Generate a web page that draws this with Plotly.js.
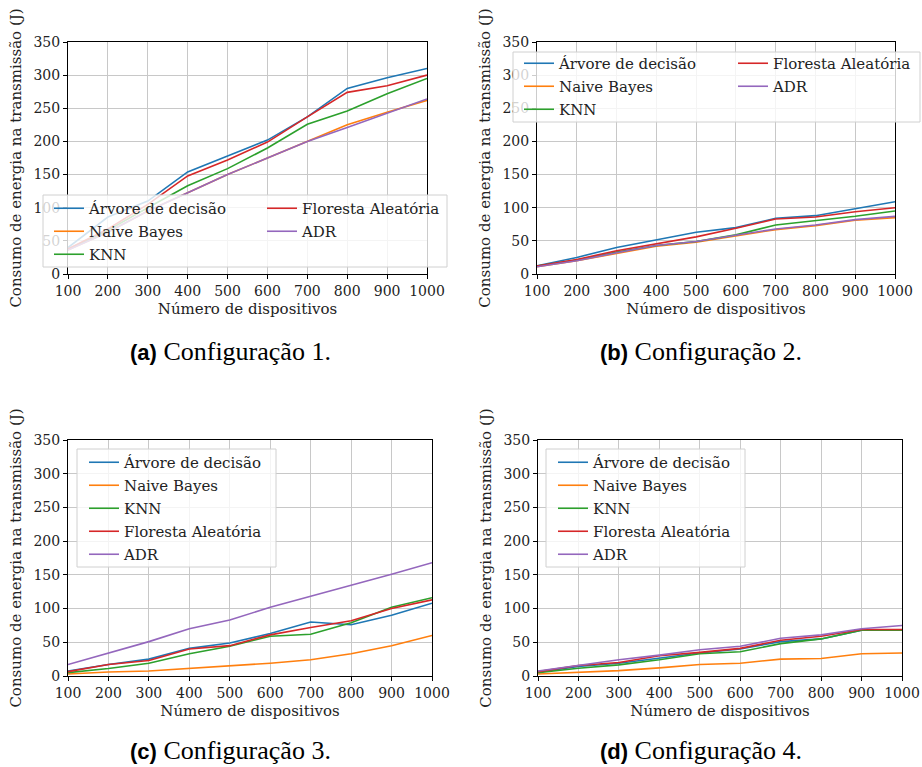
<!DOCTYPE html>
<html>
<head>
<meta charset="utf-8">
<script src="https://cdn.plot.ly/plotly-3.0.1.min.js"></script>
<style>html,body{margin:0;padding:0;background:#fff;}#chart{width:922px;height:767px;}</style>
</head>
<body>
<div id="chart"></div>
<script>
const devices = [100, 200, 300, 400, 500, 600, 700, 800, 900, 1000];
const seriesNames = ['Árvore de decisão', 'Naive Bayes', 'KNN', 'Floresta Aleatória', 'ADR'];
const seriesColors = ['#1f77b4', '#ff7f0e', '#2ca02c', '#d62728', '#9467bd'];
const yTicks = [0, 50, 100, 150, 200, 250, 300, 350];
const captions = ['Configuração 1.', 'Configuração 2.', 'Configuração 3.', 'Configuração 4.'];
const captionLetters = ['(a)', '(b)', '(c)', '(d)'];
const xTitle = 'Número de dispositivos';
const yTitle = 'Consumo de energia na transmissão (J)';

// Configuração 1
const c1Arvore   = [40, 86, 110, 154, 178, 202, 237, 280, 296, 310];
const c1Naive    = [36, 63, 95, 122, 150, 175, 200, 225, 244, 262];
const c1KNN      = [37, 66, 100, 133, 159, 190, 226, 246, 272, 295];
const c1Floresta = [38, 68, 105, 148, 172, 199, 237, 274, 284, 300];
const c1ADR      = [36, 63, 95, 123, 150, 175, 200, 221, 242, 264];
// Configuração 2
const c2Arvore   = [12.5, 25, 40, 52, 63, 70, 84, 88, 98, 109];
const c2Naive    = [11, 20, 31, 42, 48, 57, 67, 73, 81, 85];
const c2KNN      = [12, 21, 33, 43, 49, 59, 74, 80, 87, 95];
const c2Floresta = [12, 22, 35, 46, 56, 69, 83, 86, 94, 100];
const c2ADR      = [11, 20, 32, 43, 49, 58, 68, 74, 82, 87];
// Configuração 3
const c3Arvore   = [7.5, 17, 25, 41, 49, 63, 80, 76, 90, 108];
const c3Naive    = [3, 6, 7.5, 11, 15, 19, 24, 33, 45, 60];
const c3KNN      = [5, 11, 19, 33, 44, 59, 62, 79, 102, 116];
const c3Floresta = [6.5, 17, 23, 40, 45, 61, 72, 82, 100, 113];
const c3ADR      = [17, 34, 51, 70, 83, 102, 118, 134, 151, 168];
// Configuração 4
const c4Arvore   = [5.5, 14, 19, 27, 34, 40, 51, 55, 68, 68];
const c4Naive    = [3, 5.5, 8, 12, 17, 19, 25, 26, 33, 34];
const c4KNN      = [5, 11.5, 16.5, 24, 33, 36, 48, 55, 68, 68];
const c4Floresta = [6.5, 15.5, 20, 30, 35, 41, 53, 59, 69, 69];
const c4ADR      = [7.5, 16, 24, 31, 39, 44, 56, 61, 70, 75];

const configs = [
  [c1Arvore, c1Naive, c1KNN, c1Floresta, c1ADR],
  [c2Arvore, c2Naive, c2KNN, c2Floresta, c2ADR],
  [c3Arvore, c3Naive, c3KNN, c3Floresta, c3ADR],
  [c4Arvore, c4Naive, c4KNN, c4Floresta, c4ADR]
];

const W = 922, H = 767;
const px = v => v / W;
const py = v => (H - v) / H;

// panel boxes in pixels: [left, right, top, bottom]
const boxes = [[68, 427, 42, 274], [537, 895, 42, 274], [68, 432, 440, 676], [538, 902, 440, 676]];
// caption centres in pixels: [x, y]
const captionPos = [[230, 351], [701, 351], [230, 750], [701, 750]];
// legend id for each series in each panel (a,b: two columns)
const legendIds = [
  ['legend', 'legend', 'legend', 'legend2', 'legend2'],
  ['legend3', 'legend3', 'legend3', 'legend4', 'legend4'],
  ['legend5', 'legend5', 'legend5', 'legend5', 'legend5'],
  ['legend6', 'legend6', 'legend6', 'legend6', 'legend6']
];

const serif = 'DejaVu Serif';
const traces = [];
configs.forEach((cfg, p) => {
  const sfx = p === 0 ? '' : String(p + 1);
  cfg.forEach((vals, s) => {
    traces.push({
      type: 'scatter', mode: 'lines', x: devices, y: vals,
      name: seriesNames[s], xaxis: 'x' + sfx, yaxis: 'y' + sfx,
      line: {color: seriesColors[s], width: 1.6},
      legend: legendIds[p][s], legendgroup: 'g' + p + s
    });
  });
});

const layout = {
  width: W, height: H,
  margin: {l: 0, r: 0, t: 0, b: 0, autoexpand: false},
  paper_bgcolor: '#fff', plot_bgcolor: '#fff',
  font: {family: serif, size: 14, color: '#000'},
  showlegend: true,
  shapes: [], annotations: []
};

boxes.forEach((b, p) => {
  const sfx = p === 0 ? '' : String(p + 1);
  layout['xaxis' + sfx] = {
    domain: [px(b[0]), px(b[1])], anchor: 'y' + sfx,
    range: [100, 1000], tickmode: 'array', tickvals: devices,
    ticks: 'outside', ticklen: 4, tickcolor: '#000',
    showline: true, linecolor: '#000', linewidth: 1, mirror: true,
    showgrid: true, gridcolor: '#c8c8c8', gridwidth: 1, zeroline: false,
    tickfont: {family: serif, size: 14, color: '#222'},
    title: {text: xTitle, font: {family: serif, size: 15, color: '#222'}, standoff: 5}
  };
  layout['yaxis' + sfx] = {
    domain: [py(b[3]), py(b[2])], anchor: 'x' + sfx,
    range: [0, 350], tickmode: 'array', tickvals: yTicks,
    ticks: 'outside', ticklen: 4, tickcolor: '#000',
    showline: true, linecolor: '#000', linewidth: 1, mirror: true,
    showgrid: true, gridcolor: '#c8c8c8', gridwidth: 1, zeroline: false,
    tickfont: {family: serif, size: 14, color: '#222'},
    title: {text: yTitle, font: {family: serif, size: 15, color: '#222'}, standoff: 8}
  };
  layout.annotations.push({
    xref: 'paper', yref: 'paper', x: px(captionPos[p][0]), y: py(captionPos[p][1]),
    xanchor: 'center', yanchor: 'middle', showarrow: false,
    text: '<span style="font-family:Liberation Sans;font-weight:bold;font-size:22px">' + captionLetters[p] + '</span> ' + captions[p],
    font: {family: 'Liberation Serif', size: 26, color: '#000'}
  });
});

const legFont = {family: serif, size: 15, color: '#222'};
const plainLeg = (x, y) => ({
  x: px(x), y: py(y), xanchor: 'left', yanchor: 'top', orientation: 'v',
  bgcolor: 'rgba(0,0,0,0)', borderwidth: 0, font: legFont,
  traceorder: 'grouped', tracegroupgap: 0.5
});
layout.legend = plainLeg(49, 192);
layout.legend2 = plainLeg(262, 192);
layout.legend3 = plainLeg(519, 47);
layout.legend4 = plainLeg(733, 47);
layout.legend5 = plainLeg(84, 446);
layout.legend6 = plainLeg(553, 446);

// semi-transparent legend frames
[[43, 447, 195, 267], [513, 920, 52, 122], [77, 276, 449, 567], [546, 745, 449, 567]].forEach(r => {
  layout.shapes.push({
    type: 'rect', xref: 'paper', yref: 'paper', layer: 'above',
    x0: px(r[0]), x1: px(r[1]), y0: py(r[3]), y1: py(r[2]),
    fillcolor: 'rgba(255,255,255,0.8)', line: {color: '#d0d0d0', width: 1}
  });
});

Plotly.newPlot('chart', traces, layout, {staticPlot: true, displayModeBar: false});
</script>
</body>
</html>
